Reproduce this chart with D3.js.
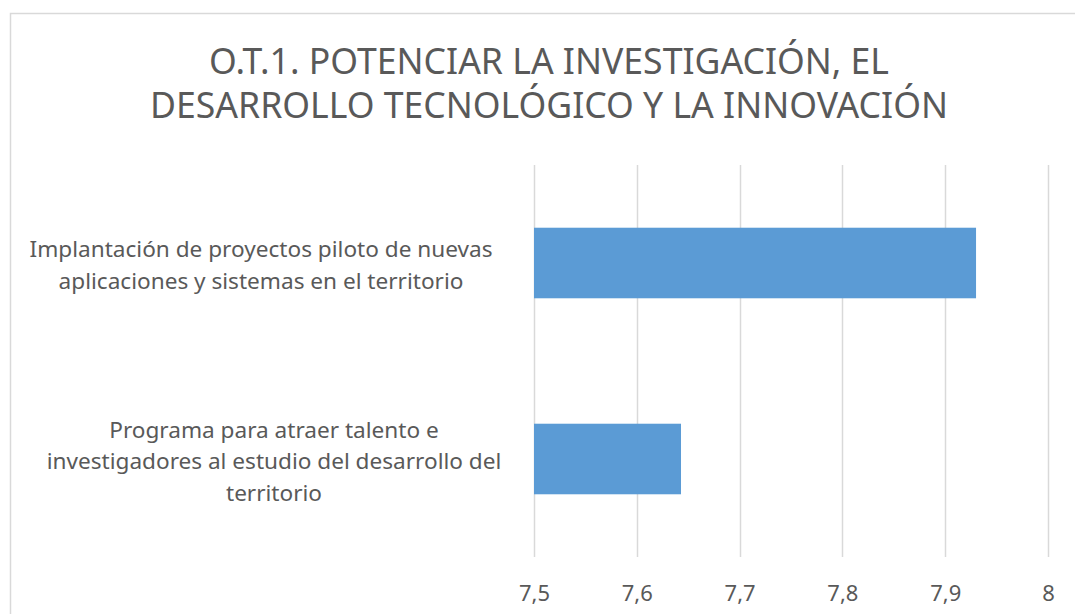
<!DOCTYPE html>
<html>
<head>
<meta charset="utf-8">
<script src="https://cdn.jsdelivr.net/npm/d3@7"></script>
<style>
  body { margin: 0; background: #fff; }
  svg { display: block; font-family: "Noto Sans", sans-serif; }
</style>
</head>
<body>
<main></main>
<script>
// data
const titleLines = ["O.T.1. POTENCIAR LA INVESTIGACIÓN, EL", "DESARROLLO TECNOLÓGICO Y LA INNOVACIÓN"];
const categories = ["implantacion", "programa"];
const categoryLabels = [
	["Implantación de proyectos piloto de nuevas", "aplicaciones y sistemas en el territorio"],
	["Programa para atraer talento e", "investigadores al estudio del desarrollo del", "territorio"]
];
const values = [7.93, 7.643];
const xTicks = [7.5, 7.6, 7.7, 7.8, 7.9, 8];

const width = 1075;
const height = 614;

const canvas = d3.select("main")
	.append("svg")
	.attr("width", width)
	.attr("height", height);

// chart frame
canvas.append("path")
	.attr("d", `M10.5,${height + 5} V13.5 H${width + 5}`)
	.attr("fill", "none")
	.attr("stroke", "#d9d9d9")
	.attr("stroke-width", 1.5);

// title
canvas.append("g")
	.selectAll("text")
	.data(titleLines)
	.enter()
	.append("text")
	.attr("x", 549)
	.attr("y", (d, i) => 74 + i * 44)
	.attr("text-anchor", "middle")
	.attr("fill", "#595959")
	.style("font-size", "35.6px")
	.text(d => d);

// scales
const xScale = d3.scaleLinear()
	.domain([7.5, 8])
	.range([534, 1048]);

const yScale = d3.scaleBand()
	.domain(categories)
	.range([165, 557])
	.paddingInner(0.64)
	.paddingOuter(0.32);

// gridlines
canvas.append("g")
	.selectAll("line")
	.data(xTicks)
	.enter()
	.append("line")
	.attr("x1", d => Math.round(xScale(d)) + 0.5)
	.attr("x2", d => Math.round(xScale(d)) + 0.5)
	.attr("y1", 165)
	.attr("y2", 557)
	.attr("stroke", "#d9d9d9")
	.attr("stroke-width", 1.5);

// bars
canvas.append("g")
	.selectAll("rect")
	.data(values)
	.enter()
	.append("rect")
	.attr("x", xScale(7.5))
	.attr("y", (d, i) => yScale(categories[i]))
	.attr("width", d => xScale(d) - xScale(7.5))
	.attr("height", yScale.bandwidth())
	.attr("fill", "#5b9bd5");

// x axis labels
const xAxis = d3.axisBottom(xScale)
	.tickValues(xTicks)
	.tickSize(0)
	.tickPadding(0)
	.tickFormat(d => String(d).replace(".", ","));

const xAxisGroup = canvas.append("g")
	.attr("transform", "translate(0, 585)")
	.call(xAxis);
xAxisGroup.select(".domain").remove();
xAxisGroup.selectAll("text")
	.attr("fill", "#595959")
	.style("font-size", "22px")
	.style("font-family", "'Noto Sans', sans-serif");

// category labels
const labelGroups = canvas.append("g")
	.selectAll("text")
	.data(categories)
	.enter()
	.append("text")
	.attr("text-anchor", "middle")
	.attr("fill", "#595959")
	.style("font-size", "22.6px");

labelGroups.each(function(d, i) {
	const lines = categoryLabels[i];
	const cy = yScale(d) + yScale.bandwidth() / 2;
	const lh = 31.5;
	const x = i === 0 ? 261 : 274;
	d3.select(this).selectAll("tspan")
		.data(lines)
		.enter()
		.append("tspan")
		.attr("x", x)
		.attr("y", (l, j) => cy + (j - (lines.length - 1) / 2) * lh + 10)
		.text(l => l);
});
</script>
</body>
</html>
